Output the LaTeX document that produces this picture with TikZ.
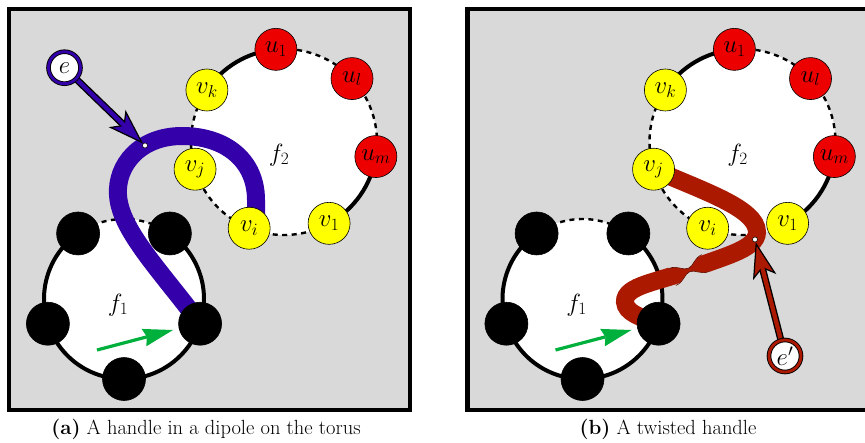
\documentclass[tikz,border=0pt]{standalone}
\usetikzlibrary{arrows.meta,calc}
\definecolor{bggray}{RGB}{217,217,217}
\definecolor{hblue}{RGB}{51,0,170}
\definecolor{hred}{RGB}{170,25,0}
\definecolor{vred}{RGB}{237,0,0}
\definecolor{vyellow}{RGB}{255,255,0}
\definecolor{agreen}{RGB}{0,176,60}
\pgfdeclarelayer{bg}
\pgfdeclarelayer{mid}
\pgfsetlayers{bg,mid,main}
\newcommand\vlab{\fontsize{26}{28}\selectfont}
\tikzset{
  vtx/.style={circle, draw=black, line width=0.6pt, minimum size=42pt, inner sep=0pt, font=\vlab},
  yv/.style={vtx, fill=vyellow},
  rv/.style={vtx, fill=vred},
  bv/.style={vtx, fill=black, minimum size=43pt},
  facesolid/.style={line width=4pt},
  facedashed/.style={line width=2.4pt, dash pattern=on 5pt off 4.5pt},
  hdot/.style={circle, fill=white, draw=black, line width=0.5pt, minimum size=5pt, inner sep=0pt},
  enode/.style={circle, fill=white, draw=black, line width=0.9pt, double=#1, double distance=2.8pt, minimum size=32pt, inner sep=0pt, font=\vlab},
  panel/.style={fill=bggray, draw=black, line width=4.8pt},
  greenarrow/.style={agreen, line width=3.2pt, -{Stealth[length=30pt,width=18pt,inset=3pt,line width=0pt]}},
  flabel/.style={font=\vlab, inner sep=0pt},
  caption/.style={font=\fontsize{20.5}{24}\selectfont, inner sep=0pt},
  handle/.style={line width=18pt},
  twistedge/.style={black!45!hred, line width=0.6pt},
}
\newcommand\fatarrow[3]{%
  \draw[black, line width=7pt, shorten >=20pt] (#2) -- (#3);
  \draw[#1, line width=4pt, -{Stealth[length=36pt,width=24pt,inset=9pt,color=black,fill=#1,line width=1.2pt]}] (#2) -- (#3);
  \draw[#1, line width=4pt, shorten >=22pt] (#2) -- (#3);
}
\newcommand\faces[2]{%
  \begin{scope}[xshift=#2]
    \coordinate (#1-c2) at (284,-142);
    \coordinate (#1-c1) at (124,-299);
    \begin{pgfonlayer}{bg}
      \draw[panel] (9,-9) rectangle (410,-410);
      \fill[white] (#1-c2) circle[radius=93];
      \fill[white] (#1-c1) circle[radius=80];
      \draw[facesolid] (#1-c2) ++(95:93) arc[start angle=95,end angle=146,radius=93];
      \draw[facesolid] (#1-c2) ++(-61:93) arc[start angle=-61,end angle=-9,radius=93];
      \draw[facedashed] (#1-c2) ++(-9:93) arc[start angle=-9,end angle=95,radius=93];
      \draw[facedashed] (#1-c2) ++(146:93) arc[start angle=146,end angle=299,radius=93];
      \draw[facesolid] (#1-c1) ++(125:80) arc[start angle=125,end angle=415,radius=80];
      \draw[facedashed] (#1-c1) ++(55:80) arc[start angle=55,end angle=125,radius=80];
    \end{pgfonlayer}
    \node[rv] (#1-u1) at ([shift={(95:93)}]#1-c2) {$u_1$};
    \node[rv] (#1-ul) at ([shift={(43:93)}]#1-c2) {$u_l$};
    \node[rv] (#1-um) at ([shift={(-9:93)}]#1-c2) {$u_m$};
    \node[yv] (#1-v1) at ([shift={(-61:93)}]#1-c2) {$v_1$};
    \node[yv] (#1-vi) at ([shift={(-112:93)}]#1-c2) {$v_i$};
    \node[yv] (#1-vj) at ([shift={(197:93)}]#1-c2) {$v_j$};
    \node[yv] (#1-vk) at ([shift={(146:93)}]#1-c2) {$v_k$};
    \node[bv] (#1-b1) at ([shift={(125:80)}]#1-c1) {};
    \node[bv] (#1-b2) at ([shift={(55:80)}]#1-c1) {};
    \node[bv] (#1-b3) at ([shift={(198:80)}]#1-c1) {};
    \node[bv] (#1-b4) at ([shift={(-18:80)}]#1-c1) {};
    \node[bv] (#1-b5) at ([shift={(-90:80)}]#1-c1) {};
    \node[flabel] (#1-f1) at (118,-305) {$f_1$};
    \node[flabel] (#1-f2) at (279,-155) {$f_2$};
    \coordinate (#1-g0) at (97,-350);
    \coordinate (#1-g1) at (173,-330);
    \draw[greenarrow] (#1-g0) -- (#1-g1);
  \end{scope}}
\begin{document}
\begin{tikzpicture}[x=1pt,y=1pt]
\useasboundingbox (0,0) rectangle (865,-442);
\faces{a}{0pt}
\faces{b}{458.5pt}
% panel (a): handle
\begin{pgfonlayer}{bg}
  \draw[hblue, handle] ($(a-vi.center)+(7,0)$) -- (256,-200) .. controls (256,-160) and (225,-136) .. (182,-136)
     .. controls (140,-136) and (116,-165) .. (118,-195) .. controls (120,-230) and (160,-270) .. (a-b4.center);
\end{pgfonlayer}
\node[hdot] (a-dot) at (145,-145.5) {};
\node[enode=hblue] (a-e) at (64.5,-67.7) {$e$};
\begin{pgfonlayer}{mid}
  \fatarrow{hblue}{a-e}{a-dot}
\end{pgfonlayer}
% panel (b): twisted handle
\begin{pgfonlayer}{bg}
  \draw[hred, handle] (b-vj.center) .. controls (700,-190) and (757,-208) .. (757,-232)
     .. controls (757,-250) and (720,-257) .. (689,-270) .. controls (660,-282) and (624,-285) .. (625,-302)
     .. controls (626,-313) and (640,-317) .. (b-b4.center);
  \fill[bggray] (668.84,-268.49) .. controls (677.14,-265.01) and (682.77,-270.66) .. (688.30,-268.34)
     .. controls (693.83,-266.02) and (693.74,-258.03) .. (702.04,-254.55) -- (699.33,-248.10) -- (666.13,-262.04) -- cycle;
  \fill[bggray] (675.96,-285.45) .. controls (684.26,-281.97) and (684.17,-273.98) .. (689.70,-271.66)
     .. controls (695.23,-269.34) and (700.86,-274.99) .. (709.16,-271.51) -- (711.87,-277.96) -- (678.67,-291.90) -- cycle;
  \draw[twistedge] (668.84,-268.49) .. controls (677.14,-265.01) and (682.77,-270.66) .. (688.30,-268.34)
     .. controls (693.83,-266.02) and (693.74,-258.03) .. (702.04,-254.55);
  \draw[twistedge] (675.96,-285.45) .. controls (684.26,-281.97) and (684.17,-273.98) .. (689.70,-271.66)
     .. controls (695.23,-269.34) and (700.86,-274.99) .. (709.16,-271.51);
\end{pgfonlayer}
\node[hdot] (b-dot) at (755,-239.5) {};
\node[enode=hred] (b-e) at (785,-356) {$e'$};
\begin{pgfonlayer}{mid}
  \fatarrow{hred}{b-e}{b-dot}
\end{pgfonlayer}
% captions
\node[caption] (capa) at (206,-429) {\textbf{(a)} A handle in a dipole on the torus};
\node[caption] (capb) at (668,-429) {\textbf{(b)} A twisted handle};
\end{tikzpicture}
\end{document}
